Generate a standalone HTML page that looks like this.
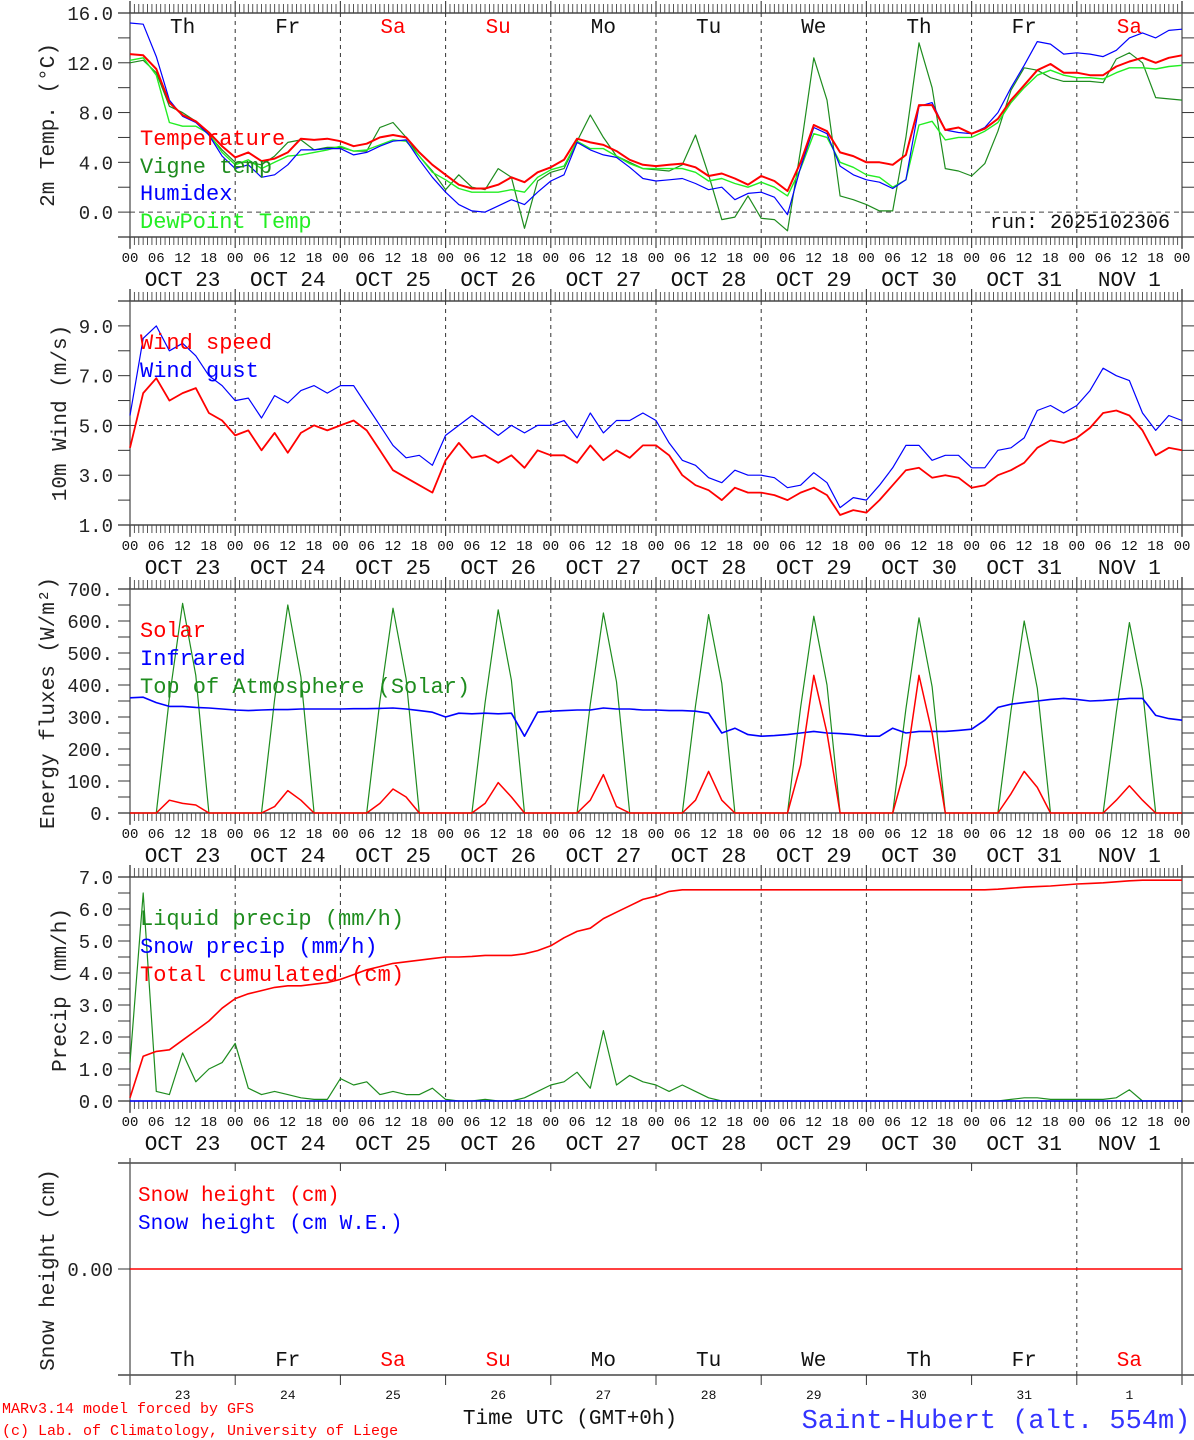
<!DOCTYPE html>
<html><head><meta charset="utf-8">
<style>
html,body{margin:0;padding:0;background:#fff;}
svg{display:block;font-family:"Liberation Mono","DejaVu Sans Mono",monospace;}
</style></head>
<body>
<svg id="chart" width="1194" height="1440" viewBox="0 0 1194 1440" xmlns="http://www.w3.org/2000/svg">
<g id="grid"></g>
<g id="marks"></g>
<g id="labels"></g>
</svg>
<script>
// ---- data (3-hourly from Oct 23 00 UTC to Nov 2 00 UTC) ----
const dayNames = ["Th","Fr","Sa","Su","Mo","Tu","We","Th","Fr","Sa"];
const dayNumbers = ["23","24","25","26","27","28","29","30","31","1"];
const dateLabels = ["OCT 23","OCT 24","OCT 25","OCT 26","OCT 27","OCT 28","OCT 29","OCT 30","OCT 31","NOV  1"];
const hourLabels = ["00","06","12","18"];
const tempTicks = [0,4,8,12,16];
const windTicks = [1,3,5,7,9];
const fluxTicks = [0,100,200,300,400,500,600,700];
const precipTicks = [0,1,2,3,4,5,6,7];

const temperature = [12.7,12.6,11.5,8.8,7.8,7.3,6.4,5.3, 4.4,4.8,4.1,4.3,4.8,5.9,5.8,5.9, 5.7,5.3,5.5,6.0,6.2,6.0,4.8,3.8, 3.0,2.2,1.9,1.9,2.2,2.8,2.4,3.2, 3.6,4.2,5.9,5.6,5.4,4.9,4.2,3.8, 3.7,3.8,3.9,3.6,2.9,3.1,2.7,2.2, 2.9,2.5,1.7,4.0,7.0,6.5,4.8,4.5, 4.0,4.0,3.8,4.6,8.6,8.6,6.6,6.8, 6.3,6.7,7.5,9.0,10.2,11.4,11.9,11.2, 11.2,11.0,11.0,11.7,12.1,12.4,12.0,12.4,12.6];
const humidex = [15.2,15.1,12.5,9.0,7.7,7.2,6.2,4.5, 3.5,3.8,2.8,3.0,3.8,5.0,5.0,5.1, 5.1,4.6,4.8,5.3,5.7,5.8,4.2,2.8, 1.6,0.6,0.1,0.0,0.5,1.0,0.6,1.6, 2.5,3.0,5.6,5.0,4.6,4.4,3.6,2.7, 2.5,2.6,2.7,2.3,1.8,2.0,1.0,1.5, 1.6,1.2,-0.2,3.6,6.8,6.3,3.7,3.0, 2.6,2.4,1.9,2.6,8.5,8.8,6.6,6.4, 6.3,6.8,8.0,10.0,11.8,13.7,13.5,12.7, 12.8,12.7,12.5,13.0,14.0,14.4,14.0,14.6,14.7];
const dewpoint = [12.2,12.4,11.0,7.2,6.9,6.9,6.3,4.8, 3.8,4.2,3.5,4.0,4.5,4.6,4.8,5.0, 5.3,4.9,5.0,5.4,5.8,5.7,4.5,3.2, 2.6,1.9,1.6,1.6,1.6,1.8,1.6,2.8, 3.4,3.7,5.7,5.1,5.1,4.5,3.9,3.5, 3.5,3.5,3.5,3.2,2.5,2.7,2.3,2.0, 2.4,2.0,1.3,3.5,6.3,6.0,4.0,3.6, 3.0,2.8,2.0,2.6,7.0,7.3,5.8,6.0, 6.0,6.5,7.2,8.8,10.0,11.0,11.4,11.0, 10.8,10.8,10.7,11.2,11.6,11.6,11.5,11.7,11.8];
const vigneTemp = [12.0,12.2,11.2,8.5,8.0,7.3,6.2,5.0, 4.0,4.0,3.8,4.5,5.6,5.8,5.0,5.2, 5.2,4.9,4.9,6.8,7.2,6.0,4.5,3.3, 1.8,3.0,2.0,1.8,3.5,2.8,-1.3,2.5, 3.2,3.5,5.7,7.8,6.0,4.5,4.0,3.5, 3.4,3.3,3.8,6.2,3.0,-0.6,-0.4,1.3, -0.5,-0.6,-1.5,5.0,12.4,9.0,1.3,1.0, 0.6,0.1,0.1,6.0,13.6,10.0,3.5,3.3, 2.9,3.9,6.5,9.8,11.6,11.4,10.8,10.5, 10.5,10.5,10.4,12.3,12.8,12.0,9.2,9.1,9.0];

const windSpeed = [4.1,6.3,6.9,6.0,6.3,6.5,5.5,5.2, 4.6,4.8,4.0,4.7,3.9,4.7,5.0,4.8, 5.0,5.2,4.8,4.0,3.2,2.9,2.6,2.3, 3.6,4.3,3.7,3.8,3.5,3.8,3.3,4.0, 3.8,3.8,3.5,4.2,3.6,4.0,3.7,4.2, 4.2,3.8,3.0,2.6,2.4,2.0,2.5,2.3, 2.3,2.2,2.0,2.3,2.5,2.2,1.4,1.6, 1.5,2.0,2.6,3.2,3.3,2.9,3.0,2.9, 2.5,2.6,3.0,3.2,3.5,4.1,4.4,4.3, 4.5,4.9,5.5,5.6,5.4,4.8,3.8,4.1,4.0];
const windGust = [5.4,8.5,9.0,8.0,8.3,7.8,7.0,6.6, 6.0,6.1,5.3,6.2,5.9,6.4,6.6,6.3, 6.6,6.6,5.8,5.0,4.2,3.7,3.8,3.4, 4.6,5.0,5.4,5.0,4.6,5.0,4.7,5.0, 5.0,5.2,4.5,5.5,4.7,5.2,5.2,5.5, 5.2,4.3,3.6,3.4,2.9,2.7,3.2,3.0, 3.0,2.9,2.5,2.6,3.1,2.7,1.7,2.1, 2.0,2.6,3.3,4.2,4.2,3.6,3.8,3.8, 3.3,3.3,4.0,4.1,4.5,5.6,5.8,5.5, 5.8,6.4,7.3,7.0,6.8,5.5,4.8,5.4,5.2];

const solar = [0,0,0,40,30,25,0,0, 0,0,0,20,70,40,0,0, 0,0,0,30,75,50,0,0, 0,0,0,30,95,50,0,0, 0,0,0,40,120,20,0,0, 0,0,0,40,130,40,0,0, 0,0,0,150,430,250,0,0, 0,0,0,150,430,250,0,0, 0,0,0,60,130,80,0,0, 0,0,0,40,85,40,0,0,0];
const infrared = [360,362,345,333,333,330,328,325, 322,320,322,323,323,325,325,325, 325,326,326,327,328,325,320,315, 300,312,310,312,310,312,240,315, 318,320,322,322,328,325,325,322, 322,320,320,318,312,250,265,245, 240,242,245,250,255,250,248,245, 240,240,265,250,255,255,255,258, 262,290,330,340,345,350,355,358, 355,350,352,355,358,358,305,295,290];
const topOfAtmosphere = [0,0,0,360,655,430,0,0, 0,0,0,355,650,425,0,0, 0,0,0,350,640,420,0,0, 0,0,0,345,635,415,0,0, 0,0,0,340,625,410,0,0, 0,0,0,335,620,405,0,0, 0,0,0,330,615,400,0,0, 0,0,0,325,610,395,0,0, 0,0,0,320,600,390,0,0, 0,0,0,315,595,385,0,0,0];

const liquidPrecip = [1.2,6.5,0.3,0.2,1.5,0.6,1.0,1.2, 1.8,0.4,0.2,0.3,0.2,0.1,0.05,0.05, 0.7,0.5,0.6,0.2,0.3,0.2,0.2,0.4, 0.05,0,0,0.05,0,0,0.1,0.3, 0.5,0.6,0.9,0.4,2.2,0.5,0.8,0.6, 0.5,0.3,0.5,0.3,0.1,0,0,0, 0,0,0,0,0,0,0,0, 0,0,0,0,0,0,0,0, 0,0,0,0.05,0.1,0.1,0.05,0.05, 0.05,0.05,0.05,0.1,0.35,0,0,0,0];
const snowPrecip = [0,0,0,0,0,0,0,0, 0,0,0,0,0,0,0,0, 0,0,0,0,0,0,0,0, 0,0,0,0,0,0,0,0, 0,0,0,0,0,0,0,0, 0,0,0,0,0,0,0,0, 0,0,0,0,0,0,0,0, 0,0,0,0,0,0,0,0, 0,0,0,0,0,0,0,0, 0,0,0,0,0,0,0,0,0];
const totalCumulated = [0.1,1.4,1.55,1.6,1.9,2.2,2.5,2.9, 3.2,3.35,3.45,3.55,3.6,3.6,3.65,3.7, 3.8,3.95,4.1,4.2,4.3,4.35,4.4,4.45, 4.5,4.5,4.52,4.55,4.55,4.55,4.6,4.7, 4.85,5.1,5.3,5.4,5.7,5.9,6.1,6.3, 6.4,6.55,6.6,6.6,6.6,6.6,6.6,6.6, 6.6,6.6,6.6,6.6,6.6,6.6,6.6,6.6, 6.6,6.6,6.6,6.6,6.6,6.6,6.6,6.6, 6.6,6.6,6.62,6.65,6.68,6.7,6.72,6.75, 6.78,6.8,6.82,6.85,6.88,6.9,6.9,6.9,6.9];
const snowHeight = [0,0,0,0,0,0,0,0, 0,0,0,0,0,0,0,0, 0,0,0,0,0,0,0,0, 0,0,0,0,0,0,0,0, 0,0,0,0,0,0,0,0, 0,0,0,0,0,0,0,0, 0,0,0,0,0,0,0,0, 0,0,0,0,0,0,0,0, 0,0,0,0,0,0,0,0, 0,0,0,0,0,0,0,0,0];

// ---- drawing ----
const NS = "http://www.w3.org/2000/svg";
const gGrid = document.getElementById("grid");
const gMarks = document.getElementById("marks");
const gLab = document.getElementById("labels");
const X0 = 130, X1 = 1182;
const xOfHour = h => X0 + h * (X1 - X0) / 240;
const STEP = 3;

function line(parent, x1, y1, x2, y2, stroke, w, dash, name) {
  const l = document.createElementNS(NS, "line");
  l.setAttribute("x1", x1); l.setAttribute("y1", y1);
  l.setAttribute("x2", x2); l.setAttribute("y2", y2);
  l.setAttribute("stroke", stroke); l.setAttribute("stroke-width", w);
  if (dash) l.setAttribute("stroke-dasharray", dash);
  
  
  parent.appendChild(l);
  return l;
}
function text(x, y, str, size, color, anchor, name, rot) {
  const t = document.createElementNS(NS, "text");
  t.setAttribute("x", x); t.setAttribute("y", y);
  t.setAttribute("font-size", size);
  t.setAttribute("fill", color);
  t.setAttribute("text-anchor", anchor || "start");
  t.setAttribute("xml:space", "preserve");
  if (rot) t.setAttribute("transform", "rotate(-90 " + x + " " + y + ")");
  t.textContent = str;
  
  
  gLab.appendChild(t);
  return t;
}
function series(vals, yScale, color, w, name) {
  let d = "";
  vals.forEach((v, i) => { d += (i ? "L" : "M") + xOfHour(i * STEP).toFixed(1) + " " + yScale(v).toFixed(1); });
  const p = document.createElementNS(NS, "path");
  p.setAttribute("d", d);
  p.setAttribute("fill", "none");
  p.setAttribute("stroke", color);
  p.setAttribute("stroke-width", w);
  p.setAttribute("stroke-linejoin", "round");
  
  
  gMarks.appendChild(p);
}

function panel(cfg) {
  const {top, bottom, vmin, vmax, name} = cfg;
  const y = v => bottom - (v - vmin) * (bottom - top) / (vmax - vmin);
  line(gGrid, 118, top, 1194, top, "#222", 1.3, null, name + "-top-border");
  line(gGrid, 118, bottom, 1194, bottom, "#222", 1.3, null, name + "-bottom-border");
  line(gGrid, X0, top - 12, X0, bottom + 12, "#555", 1.3, null, name + "-left-axis");
  line(gGrid, X1, top - 12, X1, bottom + 12, "#555", 1.3, null, name + "-right-axis");
  for (let h = 0; h <= 240; h++) {
    const x = xOfHour(h);
    const big = h % 24 === 0;
    line(gGrid, x, top - (big ? 12 : 9), x, top, "#444", big ? 1.2 : 0.9, null, name + "-top-tick");
    line(gGrid, x, bottom, x, bottom + (big ? 11 : 8), "#444", big ? 1.2 : 0.9, null, name + "-bottom-tick");
  }
  for (let d = 1; d < 10; d++) {
    line(gGrid, xOfHour(d * 24), top, xOfHour(d * 24), bottom, "#333", 1, "4,4", name + "-day-divider");
  }
  for (let v = vmin; v <= vmax + 1e-9; v += cfg.minor) {
    line(gGrid, 118, y(v), X0, y(v), "#333", 1, null, name + "-y-tick");
    line(gGrid, X1, y(v), 1194, y(v), "#333", 1, null, name + "-y-tick-right");
  }
  cfg.ticks.forEach(v => text(113, y(v) + 7, cfg.fmt(v), 19, "#222", "end", name + "-y-tick-label"));
  for (let d = 0; d <= 10; d++) {
    for (let k = 0; k < 4; k++) {
      if (d === 10 && k > 0) continue;
      text(xOfHour(d * 24 + k * 6), bottom + 25, hourLabels[k], 14, "#111", "middle", name + "-hour-label");
    }
    if (d < 10) text(xOfHour(d * 24 + 12), bottom + 49, dateLabels[d], 21, "#111", "middle", name + "-date-label");
  }
  return y;
}

// Panel 1: temperature
const yT = panel({top: 13, bottom: 237, vmin: -2, vmax: 16, minor: 2, ticks: tempTicks, fmt: v => v.toFixed(1), name: "temp-panel"});
line(gGrid, X0, yT(0), X1, yT(0), "#444", 1, "5,4", "temp-zero-line");
dayNames.forEach((n, i) => text(xOfHour(i * 24 + 12), 33, n, 21, (n === "Sa" || n === "Su") ? "#ff0000" : "#111", "middle", "day-name-label"));
series(vigneTemp, yT, "#1e8c1e", 1.2, "vigne-temp-line");
series(dewpoint, yT, "#22ee22", 1.4, "dewpoint-line");
series(humidex, yT, "#0000ff", 1.2, "humidex-line");
series(temperature, yT, "#ff0000", 2, "temperature-line");
text(140, 145, "Temperature", 22, "#ff0000", "start", "legend-temperature");
text(140, 173, "Vigne temp", 22, "#1e8c1e", "start", "legend-vigne-temp");
text(140, 200, "Humidex", 22, "#0000ff", "start", "legend-humidex");
text(140, 228, "DewPoint Temp", 22, "#22ee22", "start", "legend-dewpoint");
text(1170, 228, "run: 2025102306", 20, "#111", "end", "run-label");
text(54, 125, "2m Temp. (\u00B0C)", 21, "#222", "middle", "temp-y-axis-title", true);

// Panel 2: wind
const yW = panel({top: 301, bottom: 525, vmin: 1, vmax: 10, minor: 1, ticks: windTicks, fmt: v => v.toFixed(1), name: "wind-panel"});
line(gGrid, X0, yW(5), X1, yW(5), "#444", 1, "5,4", "wind-five-line");
series(windSpeed, yW, "#ff0000", 1.8, "wind-speed-line");
series(windGust, yW, "#0000ff", 1.2, "wind-gust-line");
text(140, 349, "Wind speed", 22, "#ff0000", "start", "legend-wind-speed");
text(140, 377, "Wind gust", 22, "#0000ff", "start", "legend-wind-gust");
text(66, 413, "10m Wind (m/s)", 21, "#222", "middle", "wind-y-axis-title", true);

// Panel 3: energy fluxes
const yF = panel({top: 589, bottom: 813, vmin: 0, vmax: 700, minor: 50, ticks: fluxTicks, fmt: v => v + ".", name: "flux-panel"});
series(topOfAtmosphere, yF, "#1e8c1e", 1.2, "toa-solar-line");
series(infrared, yF, "#0000ff", 1.6, "infrared-line");
series(solar, yF, "#ff0000", 1.5, "solar-line");
text(140, 637, "Solar", 22, "#ff0000", "start", "legend-solar");
text(140, 665, "Infrared", 22, "#0000ff", "start", "legend-infrared");
text(140, 693, "Top of Atmosphere (Solar)", 22, "#1e8c1e", "start", "legend-toa");
text(54, 703, "Energy fluxes (W/m\u00B2)", 21, "#222", "middle", "flux-y-axis-title", true);

// Panel 4: precipitation
const yP = panel({top: 877, bottom: 1101, vmin: 0, vmax: 7, minor: 0.5, ticks: precipTicks, fmt: v => v.toFixed(1), name: "precip-panel"});
series(liquidPrecip, yP, "#1e8c1e", 1.2, "liquid-precip-line");
series(snowPrecip, yP, "#0000ff", 1.5, "snow-precip-line");
series(totalCumulated, yP, "#ff0000", 1.6, "total-cumulated-line");
text(140, 925, "Liquid precip (mm/h)", 22, "#1e8c1e", "start", "legend-liquid-precip");
text(140, 953, "Snow precip (mm/h)", 22, "#0000ff", "start", "legend-snow-precip");
text(140, 981, "Total cumulated (cm)", 22, "#ff0000", "start", "legend-total-cumulated");
text(66, 990, "Precip (mm/h)", 21, "#222", "middle", "precip-y-axis-title", true);

// Panel 5: snow height
const S_TOP = 1163, S_BOT = 1375;
const yS = v => S_BOT - (v + 1) * (S_BOT - S_TOP) / 2;
line(gGrid, 118, S_TOP, 1194, S_TOP, "#222", 1.3, null, "snow-panel-top-border");
line(gGrid, 118, S_BOT, 1194, S_BOT, "#222", 1.3, null, "snow-panel-bottom-border");
line(gGrid, X0, S_TOP - 5, X0, S_BOT + 10, "#555", 1.3, null, "snow-panel-left-axis");
line(gGrid, X1, S_TOP - 5, X1, S_BOT + 10, "#555", 1.3, null, "snow-panel-right-axis");
for (let d = 1; d < 10; d++) {
  line(gGrid, xOfHour(d * 24), S_TOP, xOfHour(d * 24), S_TOP + 8, "#333", 1, null, "snow-top-tick");
  line(gGrid, xOfHour(d * 24), S_BOT, xOfHour(d * 24), S_BOT + 10, "#333", 1, null, "snow-bottom-tick");
}
line(gGrid, xOfHour(216), S_TOP, xOfHour(216), S_BOT, "#333", 1, "4,4", "snow-day-divider");
line(gGrid, 118, yS(0), X0, yS(0), "#333", 1, null, "snow-y-tick");
text(113, yS(0) + 7, "0.00", 19, "#222", "end", "snow-y-tick-label");
series(snowHeight, yS, "#ff0000", 1.5, "snow-height-line");
text(138, 1201, "Snow height (cm)", 21, "#ff0000", "start", "legend-snow-height");
text(138, 1229, "Snow height (cm W.E.)", 21, "#0000ff", "start", "legend-snow-we");
text(54, 1270, "Snow height (cm)", 21, "#222", "middle", "snow-y-axis-title", true);
dayNames.forEach((n, i) => text(xOfHour(i * 24 + 12), 1366, n, 21, (n === "Sa" || n === "Su") ? "#ff0000" : "#111", "middle", "snow-day-name-label"));
dayNumbers.forEach((n, i) => text(xOfHour(i * 24 + 12), 1399, n, 13, "#111", "middle", "snow-day-number-label"));

// footer
text(2, 1413, "MARv3.14 model forced by GFS", 15, "#ff0000", "start", "model-credit");
text(2, 1435, "(c) Lab. of Climatology, University of Liege", 15, "#ff0000", "start", "lab-credit");
text(570, 1424, "Time UTC (GMT+0h)", 21, "#111", "middle", "x-axis-title");
text(996, 1428, "Saint-Hubert (alt. 554m)", 27, "#3333ff", "middle", "station-title");
</script>
</body></html>
